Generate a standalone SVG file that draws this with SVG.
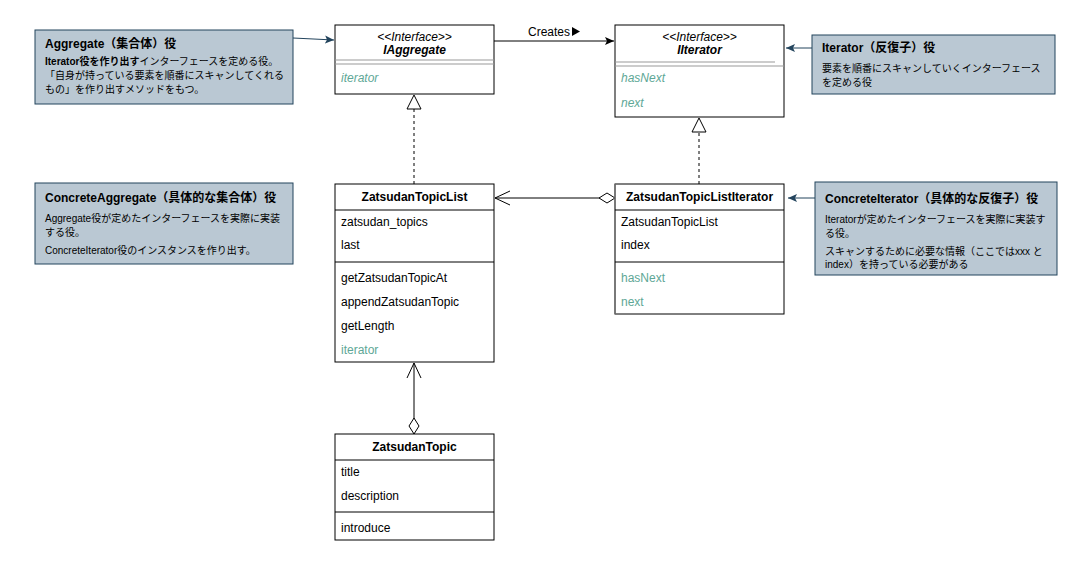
<svg xmlns="http://www.w3.org/2000/svg" width="1082" height="565" viewBox="0 0 1082 565">
  <style>
    text { font-family: "Liberation Sans", Arial, "Noto Sans CJK JP", sans-serif; font-size: 12px; fill: #000; }
    .box { fill: #fff; stroke: #000; stroke-width: 1; }
    .sep { stroke: #000; stroke-width: 1; }
    .gsep { stroke: #999; stroke-width: 1; }
    .title { font-weight: bold; text-anchor: middle; }
    .stereo { font-style: italic; text-anchor: middle; }
    .ititle { font-weight: bold; font-style: italic; text-anchor: middle; }
    .op { fill: #5ea796; }
    .iop { fill: #5ea796; font-style: italic; }
    .note { fill: #bac8d3; stroke: #23445d; stroke-width: 1; }
    .ntitle { font-weight: bold; font-size: 12px; }
    .nbody { font-size: 10px; }
    .edge { fill: none; stroke: #000; stroke-width: 1; }
    .dash { stroke-dasharray: 3 3; }
    .nedge { fill: none; stroke: #23445d; stroke-width: 1; }
  </style>
  <defs>
    <marker id="block" markerWidth="10" markerHeight="10" refX="9" refY="5" orient="auto" markerUnits="userSpaceOnUse">
      <path d="M0,1 L9,5 L0,9 L2,5 Z" fill="#000"/>
    </marker>
    <marker id="nblock" markerWidth="10" markerHeight="10" refX="9" refY="5" orient="auto" markerUnits="userSpaceOnUse">
      <path d="M0,1 L9,5 L0,9 L2,5 Z" fill="#23445d"/>
    </marker>
    <marker id="open" markerWidth="18" markerHeight="16" refX="16" refY="8" orient="auto" markerUnits="userSpaceOnUse">
      <path d="M1,1 L16,8 L1,15" fill="none" stroke="#000" stroke-width="1"/>
    </marker>
    <marker id="diamond" markerWidth="20" markerHeight="12" refX="1" refY="6" orient="auto" markerUnits="userSpaceOnUse">
      <path d="M1,6 L9,1 L17,6 L9,11 Z" fill="#fff" stroke="#000" stroke-width="1"/>
    </marker>
    <marker id="tri" markerWidth="18" markerHeight="16" refX="16" refY="8" orient="auto" markerUnits="userSpaceOnUse">
      <path d="M2,1 L16,8 L2,15 Z" fill="#fff" stroke="#000" stroke-width="1"/>
    </marker>
  </defs>

  <!-- connectors -->
  <g id="connectors">
    <line class="edge" x1="494" y1="41" x2="614" y2="41" marker-end="url(#block)"/>
    <text x="528" y="36" font-size="11">Creates</text>
    <polygon points="572,27 580,31.5 572,36" fill="#000"/>
    <line class="edge dash" x1="414" y1="184" x2="414" y2="95" marker-end="url(#tri)"/>
    <line class="edge dash" x1="699" y1="184" x2="699" y2="118" marker-end="url(#tri)"/>
    <line class="edge" x1="615" y1="198" x2="495" y2="198" marker-start="url(#diamond)" marker-end="url(#open)"/>
    <line class="edge" x1="414" y1="434" x2="414" y2="363" marker-start="url(#diamond)" marker-end="url(#open)"/>
    <line class="nedge" x1="293" y1="38" x2="334" y2="40" marker-end="url(#nblock)"/>
    <line class="nedge" x1="812" y1="48" x2="786" y2="48" marker-end="url(#nblock)"/>
    <line class="nedge" x1="815" y1="198" x2="788" y2="198" marker-end="url(#nblock)"/>
  </g>

  <!-- interface IAggregate -->
  <g id="IAggregate">
    <rect class="box" x="335" y="25" width="159" height="69"/>
    <text class="stereo" x="414.5" y="41">&lt;&lt;Interface&gt;&gt;</text>
    <text class="ititle" x="414.5" y="54">IAggregate</text>
    <line class="gsep" x1="335" y1="60" x2="494" y2="60"/>
    <line class="gsep" x1="335" y1="64" x2="494" y2="64"/>
    <text class="iop" x="341" y="82">iterator</text>
  </g>

  <!-- interface IIterator -->
  <g id="IIterator">
    <rect class="box" x="615" y="25" width="169" height="92"/>
    <text class="stereo" x="699.5" y="41">&lt;&lt;Interface&gt;&gt;</text>
    <text class="ititle" x="699.5" y="54">IIterator</text>
    <line class="gsep" x1="615" y1="62" x2="775" y2="62"/>
    <line class="gsep" x1="615" y1="66" x2="784" y2="66"/>
    <text class="iop" x="621" y="82">hasNext</text>
    <text class="iop" x="621" y="107">next</text>
  </g>

  <!-- class ZatsudanTopicList -->
  <g id="ZatsudanTopicList">
    <rect class="box" x="335" y="184" width="159" height="178"/>
    <text class="title" x="414.5" y="201">ZatsudanTopicList</text>
    <line class="sep" x1="335" y1="210" x2="494" y2="210"/>
    <text x="341" y="226">zatsudan_topics</text>
    <text x="341" y="249">last</text>
    <line class="sep" x1="335" y1="262" x2="494" y2="262"/>
    <text x="341" y="282">getZatsudanTopicAt</text>
    <text x="341" y="306">appendZatsudanTopic</text>
    <text x="341" y="330">getLength</text>
    <text class="op" x="341" y="354">iterator</text>
  </g>

  <!-- class ZatsudanTopicListIterator -->
  <g id="ZatsudanTopicListIterator">
    <rect class="box" x="615" y="184" width="169" height="130"/>
    <line x1="615" y1="184" x2="615" y2="314" stroke="#777" stroke-width="1.5"/>
    <text class="title" x="699.5" y="201">ZatsudanTopicListIterator</text>
    <line class="sep" x1="615" y1="210" x2="784" y2="210"/>
    <text x="621" y="226">ZatsudanTopicList</text>
    <text x="621" y="249">index</text>
    <line class="sep" x1="615" y1="262" x2="784" y2="262"/>
    <text class="op" x="621" y="282">hasNext</text>
    <text class="op" x="621" y="306">next</text>
  </g>

  <!-- class ZatsudanTopic -->
  <g id="ZatsudanTopic">
    <rect class="box" x="335" y="434" width="159" height="106"/>
    <text class="title" x="414.5" y="451">ZatsudanTopic</text>
    <line class="sep" x1="335" y1="460" x2="494" y2="460"/>
    <text x="341" y="476">title</text>
    <text x="341" y="500">description</text>
    <line class="sep" x1="335" y1="512" x2="494" y2="512"/>
    <text x="341" y="532">introduce</text>
  </g>

  <!-- role notes -->
  <g id="note-aggregate">
    <rect class="note" x="35" y="30" width="258" height="74"/>
    <text class="ntitle" x="45" y="48">Aggregate（集合体）役</text>
    <text class="nbody" x="45" y="65"><tspan font-weight="bold">Iterator役を作り出す</tspan>インターフェースを定める役。</text>
    <text class="nbody" x="45" y="79">「自身が持っている要素を順番にスキャンしてくれる</text>
    <text class="nbody" x="45" y="93">もの」を作り出すメソッドをもつ。</text>
  </g>

  <g id="note-iterator">
    <rect class="note" x="812" y="35" width="243" height="59"/>
    <text class="ntitle" x="822" y="52">Iterator（反復子）役</text>
    <text class="nbody" x="822" y="72">要素を順番にスキャンしていくインターフェース</text>
    <text class="nbody" x="822" y="86">を定める役</text>
  </g>

  <g id="note-concrete-aggregate">
    <rect class="note" x="35" y="183" width="258" height="81"/>
    <text class="ntitle" x="45" y="202">ConcreteAggregate（具体的な集合体）役</text>
    <text class="nbody" x="45" y="222">Aggregate役が定めたインターフェースを実際に実装</text>
    <text class="nbody" x="45" y="236">する役。</text>
    <text class="nbody" x="45" y="254">ConcreteIterator役のインスタンスを作り出す。</text>
  </g>

  <g id="note-concrete-iterator">
    <rect class="note" x="815" y="182" width="242" height="93"/>
    <text class="ntitle" x="825" y="203">ConcreteIterator（具体的な反復子）役</text>
    <text class="nbody" x="825" y="223">Iteratorが定めたインターフェースを実際に実装す</text>
    <text class="nbody" x="825" y="237">る役。</text>
    <text class="nbody" x="825" y="255">スキャンするために必要な情報（ここではxxx と</text>
    <text class="nbody" x="825" y="268">index）を持っている必要がある</text>
  </g>
</svg>
